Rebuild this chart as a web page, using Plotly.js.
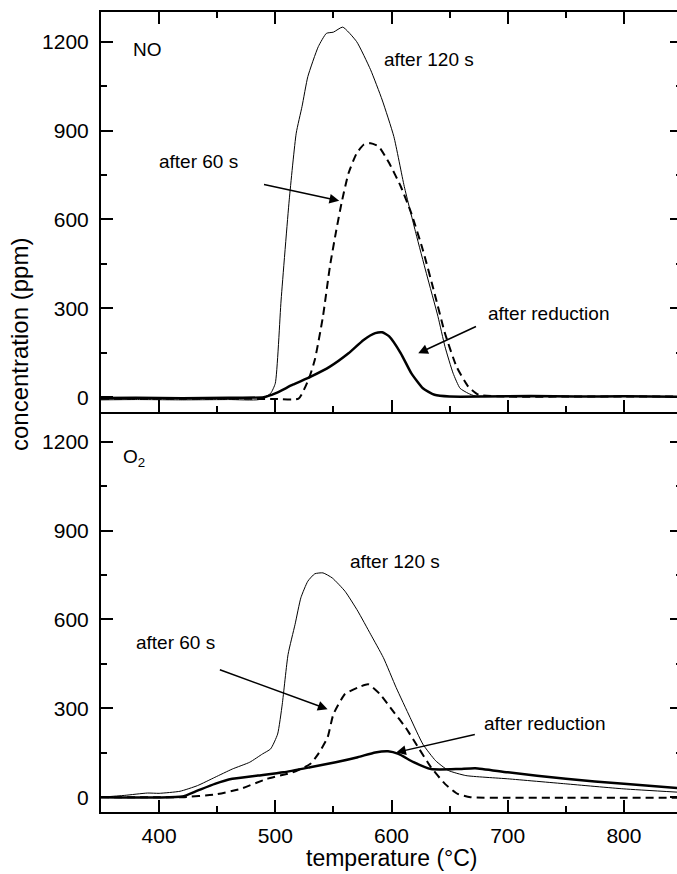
<!DOCTYPE html>
<html>
<head>
<meta charset="utf-8">
<script src="https://cdn.plot.ly/plotly-3.0.1.min.js"></script>
<style>
html,body{margin:0;padding:0;overflow:hidden;background:#fff;}
#chart{width:685px;height:874px;}
</style>
</head>
<body>
<div id="chart"></div>
<script>
// ---- NO panel (top) ----
const no120_x = [350,380,420,460,486,496,500,505,512,518,523,528,537,544,550,558,570,582,592,602,611,621,630,640,646,653,659,666,672,700,750,800,850];
const no120_y = [-9,-8,-9,-8,-8,13,47,328,666,891,981,1082,1183,1228,1232,1249,1200,1105,1003,880,711,553,418,272,171,81,30,13,4,3,2,3,2];

const no60_x = [350,400,450,500,520,529,534,541,547,552,557,563,570,576,582,589,598,608,617,627,637,646,656,666,675,700,750,800,850];
const no60_y = [-5,-5,-5,-6,-5,64,126,272,441,553,655,756,823,852,857,846,790,711,621,497,351,216,103,36,8,2,2,2,2];

const noRed_x = [350,380,420,460,490,500,515,531,547,563,576,586,592,598,608,617,627,637,650,680,720,760,800,850];
const noRed_y = [-3,-2,-4,-2,0,13,42,70,103,148,193,216,219,205,148,81,30,8,2,2,4,2,3,1];

// ---- O2 panel (bottom) ----
const o2120_x = [350,370,390,400,418,433,448,463,478,489,496,502,506,511,517,522,528,534,541,549,560,571,582,593,604,616,627,638,649,664,700,750,800,846];
const o2120_y = [0,6,14,13,20,39,67,95,118,146,163,213,314,482,583,673,729,754,757,740,695,628,550,471,370,269,179,123,90,73,62,45,28,17];

const o260_x = [350,400,420,448,470,493,515,530,537,545,550,560,571,580,590,601,612,623,634,646,657,668,700,750,800,850];
const o260_y = [0,0,0,9,28,62,84,112,146,202,280,348,370,381,348,292,236,168,101,45,11,0,-2,-2,-2,-2];

const o2Red_x = [350,400,420,433,448,463,485,507,530,552,571,586,597,606,619,634,657,672,700,750,800,846];
const o2Red_y = [0,-1,2,22,45,62,73,84,101,118,135,151,155,146,118,95,95,98,84,62,45,31];

const xTicks = [400,500,600,700,800];
const yTicks = [0,300,600,900,1200];

const black = '#000';
const FONT = 'Liberation Sans, Arial, sans-serif';

function ln(w, dash){
  const o = {color:black, width:w, shape:'spline', smoothing:0.5};
  if (dash) o.dash = dash;
  return o;
}

const traces = [
  {x: no120_x, y: no120_y, xaxis:'x2', yaxis:'y2', mode:'lines', line:ln(1), name:'after 120 s'},
  {x: no60_x,  y: no60_y,  xaxis:'x2', yaxis:'y2', mode:'lines', line:ln(2,'8px,5px'), name:'after 60 s'},
  {x: noRed_x, y: noRed_y, xaxis:'x2', yaxis:'y2', mode:'lines', line:ln(2.5), name:'after reduction'},
  {x: o2120_x, y: o2120_y, xaxis:'x', yaxis:'y', mode:'lines', line:ln(1), name:'after 120 s'},
  {x: o260_x,  y: o260_y,  xaxis:'x', yaxis:'y', mode:'lines', line:ln(2,'8px,5px'), name:'after 60 s'},
  {x: o2Red_x, y: o2Red_y, xaxis:'x', yaxis:'y', mode:'lines', line:ln(2.5), name:'after reduction'}
];

const xCommon = {
  range:[350,850], tickvals:xTicks, ticks:'inside', ticklen:12, tickwidth:2, tickcolor:black,
  showline:true, linewidth:2, linecolor:black, showgrid:false, zeroline:false,
  minor:{dtick:50, tick0:0, ticks:'inside', ticklen:6, tickwidth:2, tickcolor:black, showgrid:false},
  tickfont:{family:FONT, size:21, color:black}
};
const yCommon = {
  range:[-50,1300], tickvals:yTicks, ticks:'inside', ticklen:12, tickwidth:2, tickcolor:black,
  showline:true, linewidth:2, linecolor:black, showgrid:false, zeroline:false, mirror:'ticks',
  minor:{dtick:150, tick0:0, ticks:'inside', ticklen:6, tickwidth:2, tickcolor:black, showgrid:false},
  tickfont:{family:FONT, size:21, color:black}, ticklabelstandoff:6
};

const annFont = {family:FONT, size:19, color:black};
function txt(xref, yref, x, y, text, anchor){
  return {xref:xref, yref:yref, x:x, y:y, text:text, showarrow:false, font:annFont, xanchor:anchor||'center', yanchor:'middle'};
}
function arr(xref, yref, tx, ty, hx, hy){
  return {xref:xref, yref:yref, axref:xref, ayref:yref, x:hx, y:hy, ax:tx, ay:ty, text:'', showarrow:true,
          arrowhead:2, arrowsize:1.3, arrowwidth:1.5, arrowcolor:black, standoff:0, startstandoff:0};
}

const layout = {
  width:685, height:874,
  margin:{l:101, r:3, t:12, b:62},
  paper_bgcolor:'#fff', plot_bgcolor:'#fff',
  showlegend:false,
  font:{family:FONT, color:black},
  xaxis: Object.assign({}, xCommon, {anchor:'y', ticklabelstandoff:4}),
  yaxis: Object.assign({}, yCommon, {domain:[0,0.5], anchor:'x'}),
  xaxis2: Object.assign({}, xCommon, {anchor:'y2', matches:'x', showticklabels:false, mirror:'ticks'}),
  yaxis2: Object.assign({}, yCommon, {domain:[0.5,1], anchor:'x2'}),
  annotations: [
    txt('x2','y2',376,1172,'NO','left'),
    txt('x2','y2',632,1141,'after 120 s'),
    txt('x2','y2',434,795,'after 60 s'),
    txt('x2','y2',735,281,'after reduction'),
    arr('x2','y2',489,719,555,663),
    arr('x2','y2',674,241,623,148),
    txt('x','y',367,1144,'O<sub>2</sub>','left'),
    txt('x','y',603,794,'after 120 s'),
    txt('x','y',414,521,'after 60 s'),
    txt('x','y',732,249,'after reduction'),
    arr('x','y',451,432,545,297),
    arr('x','y',673,213,604,151),
    {xref:'paper', yref:'paper', x:-0.139, y:0.584, text:'concentration (ppm)', textangle:-90, showarrow:false,
     font:{family:FONT, size:24, color:black}, xanchor:'center', yanchor:'middle'},
    {xref:'x', yref:'paper', x:600, y:-0.058, text:'temperature (°C)', showarrow:false,
     font:{family:FONT, size:23, color:black}, xanchor:'center', yanchor:'middle'}
  ]
};

Plotly.newPlot('chart', traces, layout, {staticPlot:true, displayModeBar:false});
</script>
</body>
</html>
